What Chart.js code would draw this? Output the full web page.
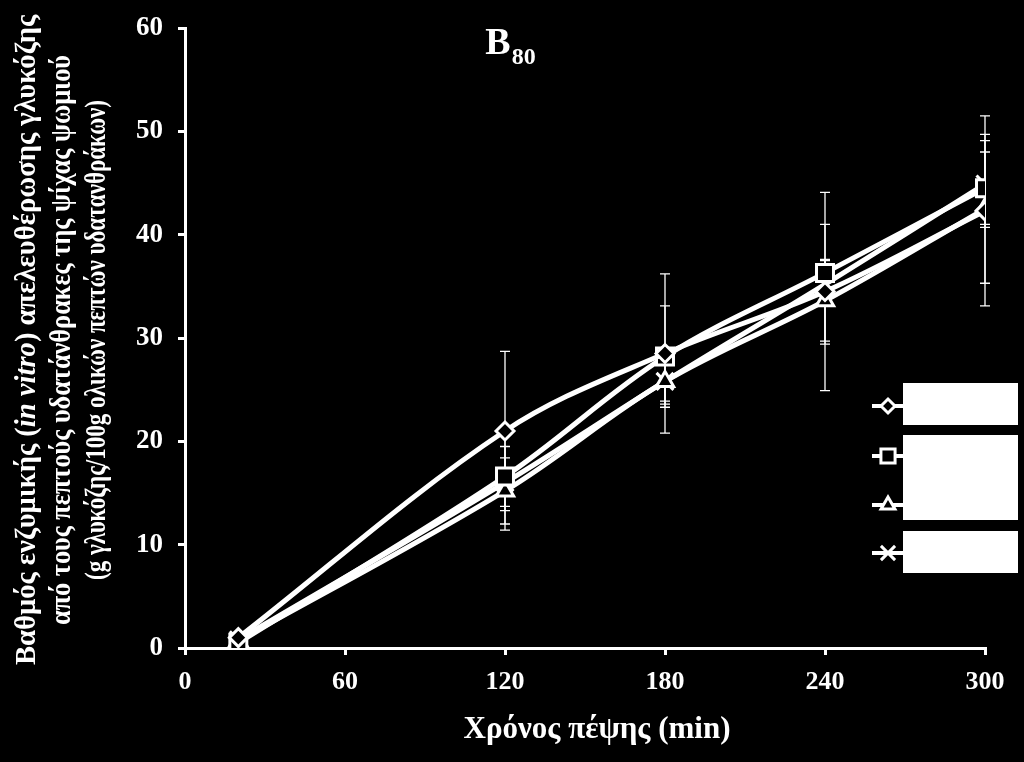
<!DOCTYPE html>
<html>
<head>
<meta charset="utf-8">
<script src="https://cdn.jsdelivr.net/npm/chart.js@4/dist/chart.umd.min.js"></script>
<style>
html,body{margin:0;padding:0;background:#000;}
#wrap{width:1024px;height:762px;position:relative;}
</style>
</head>
<body>
<div id="wrap"><canvas id="c" width="1024" height="762"></canvas></div>
<script>
// ---- data ----
const times = [20, 120, 180, 240, 300];
const xTicks = [0, 60, 120, 180, 240, 300];
const yTicks = [0, 10, 20, 30, 40, 50, 60];
const seriesNames = ['Σειρά 1', 'Σειρά 2', 'Σειρά 3', 'Σειρά 4'];
const diamondVals = [1.0, 21.0, 28.5, 34.5, 42.3];
const squareVals  = [0.5, 16.6, 28.2, 36.3, 44.5];
const triangleVals= [0.7, 15.2, 25.8, 33.6, 42.5];
const crossVals   = [0.8, 16.0, 25.8, 35.2, 44.9];
const diamondErr  = [0.3, 7.7, 7.7, 9.6, 9.2];
const squareErr   = [0.3, 2.9, 4.9, 1.3, 3.5];
const triangleErr = [0.3, 3.2, 1.9, 3.9, 7.2];
const crossErr    = [0.3, 4.6, 2.2, 5.8, 4.2];
const titleMain = 'B';
const titleSub = '80';
const xTitle = 'Χρόνος πέψης (min)';
const yTitleLines = [
  [['Βαθμός ενζυμικής (', 'normal'], ['in vitro', 'italic'], [') απελευθέρωσης γλυκόζης', 'normal']],
  [['από τους πεπτούς υδατάνθρακες της ψίχας ψωμιού', 'normal']],
  [['(g γλυκόζης/100g ολικών πεπτών υδατανθράκων)', 'normal']]
];

const SERIF = '"Liberation Serif", "Times New Roman", serif';
const pts = v => times.map((t, i) => ({x: t, y: v[i]}));
const styles = ['rectRot', 'rect', 'triangle', 'crossRot'];
const vals = [diamondVals, squareVals, triangleVals, crossVals];
const errs = [diamondErr, squareErr, triangleErr, crossErr];
const radii = [9, 12, 10, 12];

const datasets = vals.map((v, i) => ({
  label: seriesNames[i],
  data: pts(v),
  errors: errs[i],
  borderColor: '#fff',
  borderWidth: 5,
  backgroundColor: '#000',
  pointStyle: styles[i],
  pointRadius: radii[i],
  pointBorderWidth: 3,
  pointBorderColor: '#fff',
  pointBackgroundColor: '#000',
  tension: 0.35,
  fill: false
}));

const errorBars = {
  id: 'errorBars',
  beforeDatasetsDraw(chart) {
    const ctx = chart.ctx, xs = chart.scales.x, ys = chart.scales.y;
    ctx.save();
    ctx.strokeStyle = '#fff';
    ctx.lineWidth = 1.3;
    chart.data.datasets.forEach(ds => {
      ds.data.forEach((p, i) => {
        const e = ds.errors[i];
        const x = xs.getPixelForValue(p.x);
        const y1 = ys.getPixelForValue(p.y + e), y2 = ys.getPixelForValue(p.y - e);
        ctx.beginPath();
        ctx.moveTo(x, y1); ctx.lineTo(x, y2);
        ctx.moveTo(x - 5, y1); ctx.lineTo(x + 5, y1);
        ctx.moveTo(x - 5, y2); ctx.lineTo(x + 5, y2);
        ctx.stroke();
      });
    });
    ctx.restore();
  }
};

const textPlugin = {
  id: 'texts',
  afterDraw(chart) {
    const ctx = chart.ctx, area = chart.chartArea;
    ctx.save();
    ctx.fillStyle = '#fff';
    // title B80
    ctx.textBaseline = 'alphabetic';
    ctx.font = 'bold 38px ' + SERIF;
    const bw = ctx.measureText(titleMain).width;
    ctx.font = 'bold 24px ' + SERIF;
    const sw = ctx.measureText(titleSub).width;
    let tx = 510 - (bw + sw) / 2;
    ctx.font = 'bold 38px ' + SERIF;
    ctx.textAlign = 'left';
    ctx.fillText(titleMain, tx, 54);
    ctx.font = 'bold 24px ' + SERIF;
    ctx.fillText(titleSub, tx + bw + 1, 64);
    // x title
    ctx.font = 'bold 31px ' + SERIF;
    ctx.textAlign = 'center';
    ctx.fillText(xTitle, (area.left + area.right) / 2 + 12, 738);
    // y title
    const cy = 340;
    const xsCenters = [28, 63, 98];
    const targets = [650, 570, 480];
    const fs = 29;
    yTitleLines.forEach((line, li) => {
      let total = 0;
      const widths = line.map(([t, st]) => {
        ctx.font = (st === 'italic' ? 'italic ' : '') + 'bold ' + fs + 'px ' + SERIF;
        const w = ctx.measureText(t).width; total += w; return w;
      });
      const k = targets[li] / total;
      ctx.save();
      ctx.translate(xsCenters[li], cy);
      ctx.rotate(-Math.PI / 2);
      ctx.scale(k, 1);
      ctx.textAlign = 'left';
      ctx.textBaseline = 'middle';
      let px = -total / 2;
      line.forEach(([t, st], j) => {
        ctx.font = (st === 'italic' ? 'italic ' : '') + 'bold ' + fs + 'px ' + SERIF;
        ctx.fillText(t, px, 0);
        px += widths[j];
      });
      ctx.restore();
    });
    // legend
    const boxes = [[903, 383, 115, 42], [903, 435, 115, 85], [903, 531, 115, 42]];
    ctx.fillStyle = '#fff';
    boxes.forEach(b => ctx.fillRect(b[0], b[1], b[2], b[3]));
    const ly = [406, 456, 505, 553];
    chart.data.datasets.forEach((ds, i) => {
      ctx.strokeStyle = '#fff';
      ctx.lineWidth = 4;
      ctx.beginPath();
      ctx.moveTo(872, ly[i]); ctx.lineTo(903, ly[i]);
      ctx.stroke();
      ctx.fillStyle = '#000';
      ctx.strokeStyle = '#fff';
      ctx.lineWidth = 3;
      Chart.helpers.drawPoint(ctx, {pointStyle: ds.pointStyle, radius: ds.pointRadius - 2, rotation: 0, borderWidth: 3}, 888, ly[i]);
    });
    ctx.restore();
  }
};

new Chart(document.getElementById('c'), {
  type: 'line',
  data: {datasets},
  options: {
    responsive: false,
    animation: false,
    layout: {padding: {left: 0, right: 39, top: 28, bottom: 0}},
    plugins: {legend: {display: false}, tooltip: {enabled: false}},
    scales: {
      x: {
        type: 'linear', min: 0, max: 300,
        afterBuildTicks: s => { s.ticks = xTicks.map(v => ({value: v})); },
        afterFit: s => { s.height = 762 - 648; s.paddingLeft = 0; s.paddingRight = 0; },
        grid: {display: true, drawOnChartArea: false, drawTicks: true, tickLength: 7, color: '#fff', lineWidth: 3},
        border: {display: true, color: '#fff', width: 3},
        ticks: {color: '#fff', font: {family: SERIF, size: 26, weight: 'bold'}, padding: 12, maxRotation: 0}
      },
      y: {
        min: 0, max: 60,
        afterBuildTicks: s => { s.ticks = yTicks.map(v => ({value: v})); },
        afterFit: s => { s.width = 185; s.paddingTop = 0; s.paddingBottom = 0; },
        grid: {display: true, drawOnChartArea: false, drawTicks: true, tickLength: 7, color: '#fff', lineWidth: 3},
        border: {display: true, color: '#fff', width: 3},
        ticks: {color: '#fff', font: {family: SERIF, size: 27, weight: 'bold'}, padding: 15}
      }
    }
  },
  plugins: [errorBars, textPlugin]
});
</script>
</body>
</html>
